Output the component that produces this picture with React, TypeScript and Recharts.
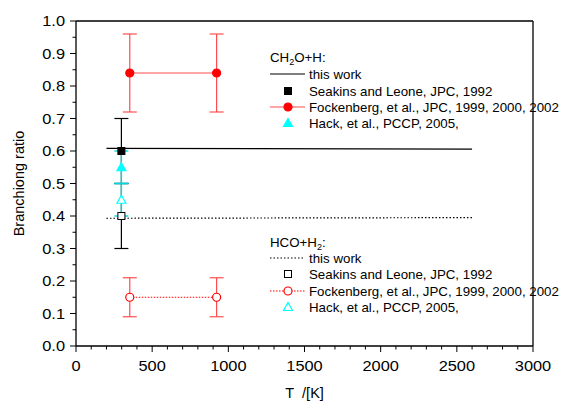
import { ComposedChart, Line, Scatter, ErrorBar, XAxis, YAxis, ReferenceLine } from "recharts";

const FONT = '"Liberation Sans", Arial, sans-serif';

// tick positions (major ones get a label)
const xMajor = [0, 500, 1000, 1500, 2000, 2500, 3000];
const yMajor = [0.0, 0.1, 0.2, 0.3, 0.4, 0.5, 0.6, 0.7, 0.8, 0.9, 1.0];
const xTicks: number[] = [];
for (let t = 0; t <= 3000; t += 100) xTicks.push(t);
const yTicks: number[] = [];
for (let i = 0; i <= 20; i++) yTicks.push(Math.round(i * 5) / 100);

// CH2O + H channel
const thisWorkCH2O = [
  { x: 200, y: 0.608 },
  { x: 2600, y: 0.606 },
];
const seakinsCH2O = [{ x: 298, y: 0.6, err: 0.1 }];
const fockenbergCH2O = [
  { x: 353, y: 0.84, err: 0.12 },
  { x: 923, y: 0.84, err: 0.12 },
];
const hackCH2O = [{ x: 298, y: 0.55, err: 0.05 }];

// HCO + H2 channel
const thisWorkHCO = [
  { x: 200, y: 0.393 },
  { x: 2600, y: 0.395 },
];
const seakinsHCO = [{ x: 298, y: 0.4, err: 0.1 }];
const fockenbergHCO = [
  { x: 353, y: 0.15, err: 0.06 },
  { x: 923, y: 0.15, err: 0.06 },
];
const hackHCO = [{ x: 298, y: 0.45, err: 0.05 }];

const RED = "#ff0000";
const RED_LINE = "#ff4d4d";
const CYAN = "#00ffff";
const CYAN_BAR = "#00d8e0";

const isMajorX = (v: number) => xMajor.includes(v);
const isMajorY = (v: number) => yMajor.some((m) => Math.abs(m - v) < 1e-6);

const XTick = (p: any) => {
  const v = p.payload.value;
  const major = isMajorX(v);
  return (
    <g>
      <line x1={p.x} x2={p.x} y1={p.y} y2={p.y + (major ? 6 : 3.5)} stroke="#000" strokeWidth={1} />
      {major && (
        <text transform={`translate(${p.x},${p.y + 25}) scale(1.17,1)`} textAnchor="middle" fontSize={14} fontFamily={FONT} fill="#000">
          {v}
        </text>
      )}
    </g>
  );
};

const YTick = (p: any) => {
  const v = p.payload.value;
  const major = isMajorY(v);
  return (
    <g>
      <line x1={p.x} x2={p.x - (major ? 6 : 3.5)} y1={p.y} y2={p.y} stroke="#000" strokeWidth={1} />
      {major && (
        <text transform={`translate(${p.x - 11},${p.y + 5}) scale(1.17,1)`} textAnchor="end" fontSize={14} fontFamily={FONT} fill="#000">
          {v.toFixed(1)}
        </text>
      )}
    </g>
  );
};

const square = (filled: boolean) => (p: any) => (
  <rect x={p.cx - 3.5} y={p.cy - 3.5} width={7} height={7} fill={filled ? "#000" : "#fff"} stroke="#000" strokeWidth={1} />
);
const circle = (filled: boolean) => (p: any) => (
  <circle cx={p.cx} cy={p.cy} r={4} fill={filled ? RED : "#fff"} stroke={RED} strokeWidth={1.2} />
);
const triangle = (filled: boolean) => (p: any) => (
  <path
    d={`M${p.cx},${p.cy - 4.5}L${p.cx + 4.5},${p.cy + 3.5}L${p.cx - 4.5},${p.cy + 3.5}Z`}
    fill={filled ? CYAN : "#fff"}
    stroke={CYAN}
    strokeWidth={1.2}
  />
);

const LegendOverlay = () => {
  const sym = 288;
  const tx = 309;
  const row = (y: number, symbol: any, text: string, line?: { stroke: string; dash?: string }) => (
    <g key={text + y}>
      {line && <line x1={270} x2={305} y1={y} y2={y} stroke={line.stroke} strokeWidth={1.2} strokeDasharray={line.dash} />}
      {symbol && symbol({ cx: sym, cy: y })}
      <text x={tx} y={y + 4.5} fontSize={13.3} fontFamily={FONT} fill="#000">
        {text}
      </text>
    </g>
  );
  return (
    <svg width={567} height={403} style={{ position: "absolute", left: 0, top: 0, pointerEvents: "none" }}>
      <text x={270} y={62} fontSize={13.3} fontFamily={FONT} fill="#000">
        CH<tspan fontSize={9} dy={3}>2</tspan>
        <tspan dy={-3}>O+H:</tspan>
      </text>
      {row(74, null, "this work", { stroke: "#000" })}
      {row(91, square(true), "Seakins and Leone, JPC, 1992")}
      {row(107, circle(true), "Fockenberg, et al., JPC, 1999, 2000, 2002", { stroke: RED_LINE })}
      {row(123, triangle(true), "Hack, et al., PCCP, 2005,")}

      <text x={270} y={247} fontSize={13.3} fontFamily={FONT} fill="#000">
        HCO+H<tspan fontSize={9} dy={3}>2</tspan>
        <tspan dy={-3}>:</tspan>
      </text>
      {row(258, null, "this work", { stroke: "#000", dash: "1.5 2" })}
      {row(274, square(false), "Seakins and Leone, JPC, 1992")}
      {row(291, circle(false), "Fockenberg, et al., JPC, 1999, 2000, 2002", { stroke: RED, dash: "1.5 1.5" })}
      {row(307, triangle(false), "Hack, et al., PCCP, 2005,")}
    </svg>
  );
};

export default function App() {
  return (
    <div style={{ position: "absolute", left: 0, top: 0, width: 567, height: 403, background: "#fff" }}>
      <ComposedChart width={567} height={403} margin={{ top: 21, right: 34, bottom: 0, left: 0 }}>
        <XAxis
          type="number"
          dataKey="x"
          domain={[0, 3000]}
          ticks={xTicks}
          interval={0}
          height={57}
          tickSize={0}
          tickMargin={0}
          tick={<XTick />}
          axisLine={{ stroke: "#000", strokeWidth: 1.3 }}
          allowDataOverflow
          label={(props: any) => {
            const vb = props.viewBox;
            return (
              <text x={vb.x + vb.width / 2} y={vb.y + 52} textAnchor="middle" fontSize={14.5} fontFamily={FONT} fill="#000">
                {"T\u00a0\u00a0/[K]"}
              </text>
            );
          }}
        />
        <YAxis
          type="number"
          dataKey="y"
          domain={[0, 1]}
          ticks={yTicks}
          interval={0}
          width={76}
          tickSize={0}
          tickMargin={0}
          tick={<YTick />}
          axisLine={{ stroke: "#000", strokeWidth: 1.3 }}
          allowDataOverflow
          label={(props: any) => {
            const vb = props.viewBox;
            const cx = vb.x + 19;
            const cy = vb.y + vb.height / 2;
            return (
              <text x={cx} y={cy} transform={`rotate(-90 ${cx} ${cy})`} textAnchor="middle" dominantBaseline="central" fontSize={14.5} fontFamily={FONT} fill="#000">
                Branchiong ratio
              </text>
            );
          }}
        />
        <ReferenceLine y={1} stroke="#000" strokeWidth={1.3} />
        <ReferenceLine x={3000} stroke="#000" strokeWidth={1.3} />

        <Line data={thisWorkCH2O} dataKey="y" stroke="#000" strokeWidth={1.2} dot={false} isAnimationActive={false} />
        <Line data={thisWorkHCO} dataKey="y" stroke="#000" strokeWidth={1.2} strokeDasharray="1.5 2" dot={false} isAnimationActive={false} />

        <Scatter data={fockenbergCH2O} dataKey="y" line={{ stroke: RED_LINE, strokeWidth: 1.2 }} shape={circle(true)} isAnimationActive={false}>
          <ErrorBar dataKey="err" direction="y" width={7} stroke={RED_LINE} strokeWidth={1.2} />
        </Scatter>
        <Scatter data={fockenbergHCO} dataKey="y" line={{ stroke: RED, strokeWidth: 1.2, strokeDasharray: "1.5 1.5" }} shape={circle(false)} isAnimationActive={false}>
          <ErrorBar dataKey="err" direction="y" width={7} stroke={RED_LINE} strokeWidth={1.2} />
        </Scatter>

        <Scatter data={seakinsCH2O} dataKey="y" shape={square(true)} isAnimationActive={false}>
          <ErrorBar dataKey="err" direction="y" width={7} stroke="#000" strokeWidth={1.2} />
        </Scatter>
        <Scatter data={seakinsHCO} dataKey="y" shape={square(false)} isAnimationActive={false}>
          <ErrorBar dataKey="err" direction="y" width={7} stroke="#000" strokeWidth={1.2} />
        </Scatter>

        <Scatter data={hackCH2O} dataKey="y" shape={triangle(true)} isAnimationActive={false}>
          <ErrorBar dataKey="err" direction="y" width={7} stroke={CYAN_BAR} strokeWidth={1.4} />
        </Scatter>
        <Scatter data={hackHCO} dataKey="y" shape={triangle(false)} isAnimationActive={false}>
          <ErrorBar dataKey="err" direction="y" width={7} stroke={CYAN_BAR} strokeWidth={1.4} />
        </Scatter>
      </ComposedChart>
      <LegendOverlay />
    </div>
  );
}
